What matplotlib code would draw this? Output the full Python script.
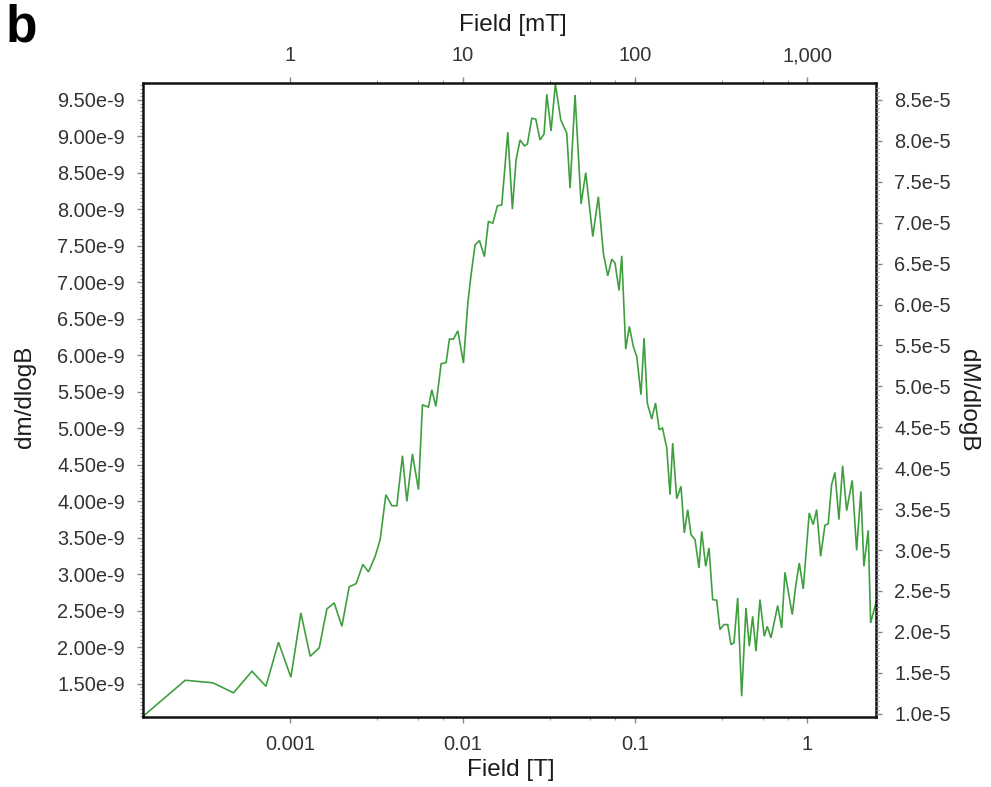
import numpy as np
import matplotlib
matplotlib.use("Agg")
import matplotlib.pyplot as plt
from matplotlib.ticker import FixedLocator, FuncFormatter, NullFormatter

plt.rcParams['font.family'] = ['Liberation Sans', 'DejaVu Sans']

# Coercivity spectrum: applied field (mT) and dm/dlogB (units of 1e-9)
field_mT = [0.140, 0.246, 0.356, 0.469, 0.600, 0.723, 0.855, 1.009, 1.153, 1.306,
            1.473, 1.632, 1.799, 1.994, 2.198, 2.413, 2.639, 2.844, 3.110, 3.324,
            3.588, 3.887, 4.155, 4.477, 4.748, 5.117, 5.544, 5.848, 6.336, 6.630,
            6.993, 7.506, 8.024, 8.386, 8.845, 9.380, 10.11, 10.72, 11.16, 11.81,
            12.52, 13.38, 14.11, 14.97, 15.91, 16.87, 18.28, 19.44, 20.42, 21.54,
            22.82, 23.76, 25.19, 26.57, 28.13, 29.68, 30.77, 32.58, 34.51, 37.10,
            40.18, 42.00, 44.89, 48.64, 51.78, 56.87, 61.26, 65.50, 69.47, 73.28,
            76.58, 80.77, 83.74, 88.33, 92.69, 97.75, 102.3, 108.3, 112.8, 117.8,
            125.0, 131.5, 138.1, 144.3, 152.7, 159.6, 165.4, 174.5, 184.8, 193.1,
            202.1, 211.2, 222.8, 235.0, 243.6, 257.0, 268.5, 282.1, 297.6, 311.1,
            328.1, 344.7, 360.2, 374.9, 393.9, 415.5, 440.1, 459.9, 481.3, 502.9,
            530.4, 561.8, 584.8, 614.3, 671.9, 708.7, 740.7, 816.5, 854.4, 896.6,
            945.7, 1024, 1080, 1131, 1193, 1263, 1320, 1381, 1443, 1523,
            1600, 1688, 1818, 1929, 2042, 2126, 2252, 2325, 2496]

dm_dlogB_e9 = [1.05, 1.545, 1.510, 1.373, 1.668, 1.463, 2.066, 1.586, 2.468, 1.874,
               1.989, 2.523, 2.605, 2.285, 2.825, 2.870, 3.134, 3.030, 3.244, 3.473,
               4.089, 3.938, 3.938, 4.623, 3.997, 4.647, 4.158, 5.322, 5.290, 5.527,
               5.299, 5.884, 5.901, 6.222, 6.222, 6.336, 5.893, 6.715, 7.079, 7.514,
               7.573, 7.353, 7.833, 7.811, 8.048, 8.062, 9.058, 8.003, 8.678, 8.952,
               8.870, 8.897, 9.249, 9.236, 8.952, 9.034, 9.578, 9.075, 9.72, 9.226,
               9.044, 8.290, 9.568, 8.075, 8.504, 7.627, 8.175, 7.400, 7.089, 7.318,
               7.263, 6.888, 7.363, 6.085, 6.395, 6.121, 5.984, 5.459, 6.236, 5.345,
               5.126, 5.345, 4.979, 5.003, 4.733, 4.089, 4.797, 4.034, 4.203, 3.564,
               3.884, 3.541, 3.473, 3.085, 3.586, 3.107, 3.359, 2.651, 2.641, 2.240,
               2.308, 2.308, 2.034, 2.058, 2.674, 1.326, 2.537, 2.011, 2.422, 1.942,
               2.651, 2.148, 2.285, 2.126, 2.568, 2.263, 3.025, 2.445, 2.833, 3.153,
               2.797, 3.838, 3.678, 3.884, 3.244, 3.668, 3.692, 4.226, 4.395, 3.747,
               4.486, 3.870, 4.285, 3.326, 4.134, 3.107, 3.600, 2.332, 2.605]

bottom_ticks_T = [0.001, 0.01, 0.1, 1]
top_ticks_mT = [1, 10, 100, 1000]
left_ticks_e9 = [1.5, 2.0, 2.5, 3.0, 3.5, 4.0, 4.5, 5.0, 5.5, 6.0, 6.5, 7.0, 7.5, 8.0, 8.5, 9.0, 9.5]
right_ticks_e5 = [1.0, 1.5, 2.0, 2.5, 3.0, 3.5, 4.0, 4.5, 5.0, 5.5, 6.0, 6.5, 7.0, 7.5, 8.0, 8.5]

field_T = np.array(field_mT) / 1000.0
dm = np.array(dm_dlogB_e9) * 1e-9

TICK_COLOR = '#333333'
LABEL_COLOR = '#1c1c1c'
TICK_FS = 14.4
LABEL_FS = 17.5

fig = plt.figure(figsize=(9.91, 7.87), dpi=100)
ax = fig.add_axes([0.1443, 0.0890, 0.7397, 0.8052])

ax.plot(field_T, dm, color='#3f9f3f', lw=1.2, solid_joinstyle='miter')
ax.set_xscale('log')
ax.set_xlim(1.40e-4, 2.50)
ax.set_ylim(1.042e-9, 9.729e-9)

for s in ax.spines.values():
    s.set_linewidth(1.8)
    s.set_color('#111111')

# bottom axis (Tesla)
ax.xaxis.set_major_locator(FixedLocator(bottom_ticks_T))
ax.xaxis.set_major_formatter(FuncFormatter(lambda v, p: f"{v:g}"))
minor_T = [m * d for d in (1e-3, 1e-2, 1e-1, 1.0) for m in (3.2, 5.5, 7.7)]
ax.xaxis.set_minor_locator(FixedLocator(minor_T))
ax.xaxis.set_minor_formatter(NullFormatter())

# left axis
ax.yaxis.set_major_locator(FixedLocator(np.array(left_ticks_e9) * 1e-9))
ax.yaxis.set_major_formatter(FuncFormatter(lambda v, p: f"{v * 1e9:.2f}e-9"))
ax.yaxis.set_minor_locator(FixedLocator(np.arange(1.05, 9.75, 0.05) * 1e-9))
ax.yaxis.set_minor_formatter(NullFormatter())

ax.tick_params(which='major', direction='out', length=4, width=1, color='#888888',
               labelsize=TICK_FS, labelcolor=TICK_COLOR, pad=9)
ax.tick_params(which='minor', direction='out', length=2.2, width=0.8, color='#999999')
ax.tick_params(axis='x', which='both', top=False)
ax.tick_params(axis='y', which='both', right=False)

# top axis (milliTesla)
top = ax.secondary_xaxis('top', functions=(lambda t: t * 1e3, lambda m: m / 1e3))
top.xaxis.set_major_locator(FixedLocator(top_ticks_mT))
top.xaxis.set_major_formatter(FuncFormatter(lambda v, p: f"{v:,.0f}"))
minor_mT = [m * d for d in (1.0, 10.0, 100.0, 1000.0) for m in (3.2, 5.5, 7.7)]
top.xaxis.set_minor_locator(FixedLocator(minor_mT))
top.xaxis.set_minor_formatter(NullFormatter())
top.tick_params(which='major', direction='out', length=4, width=1, color='#888888',
                labelsize=TICK_FS, labelcolor=TICK_COLOR, pad=9)
top.tick_params(which='minor', direction='out', length=2.2, width=0.8, color='#999999')
top.spines['top'].set_visible(False)

# right axis (mass-normalised)
ax2 = ax.twinx()
ax2.set_ylim(0.96e-5, 8.704e-5)
ax2.yaxis.set_major_locator(FixedLocator(np.array(right_ticks_e5) * 1e-5))
ax2.yaxis.set_major_formatter(FuncFormatter(lambda v, p: f"{v * 1e5:.1f}e-5"))
ax2.yaxis.set_minor_locator(FixedLocator(np.arange(1.0, 8.7, 0.05) * 1e-5))
ax2.yaxis.set_minor_formatter(NullFormatter())
ax2.tick_params(which='major', direction='out', length=4, width=1, color='#888888',
                labelsize=TICK_FS, labelcolor=TICK_COLOR, pad=9)
ax2.tick_params(which='minor', direction='out', length=2.2, width=0.8, color='#999999')
for s in ax2.spines.values():
    s.set_visible(False)

# axis titles
fig.text(0.518, 1 - 25 / 787, 'Field [mT]', ha='center', va='center',
         fontsize=LABEL_FS, color=LABEL_COLOR)
fig.text(0.515, 1 - 770 / 787, 'Field [T]', ha='center', va='center',
         fontsize=LABEL_FS, color=LABEL_COLOR)
fig.text(25 / 991, 1 - 397 / 787, 'dm/dlogB', ha='center', va='center',
         rotation=90, fontsize=LABEL_FS, color=LABEL_COLOR)
fig.text(968 / 991, 1 - 400 / 787, 'dM/dlogB', ha='center', va='center',
         rotation=270, fontsize=LABEL_FS, color=LABEL_COLOR)

# panel letter
fig.text(6 / 991, 1 - 41 / 787, 'b', ha='left', va='baseline',
         fontsize=37, fontweight='bold', color='black')

fig.savefig('out.png', dpi=100)
